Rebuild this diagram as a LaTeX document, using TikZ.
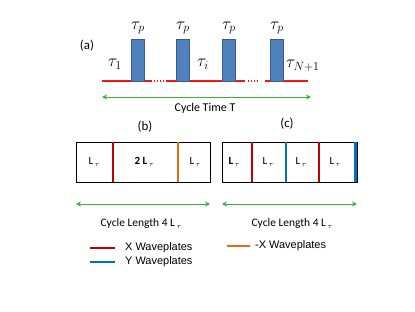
\documentclass[tikz,border=0pt]{standalone}
\usepackage{fontspec}
\setmainfont{Carlito}
\newfontfamily\legfont{Liberation Sans}
\usetikzlibrary{arrows.meta}
\definecolor{pulsefill}{HTML}{4F81BD}
\definecolor{pulsedraw}{HTML}{385D8A}
\definecolor{xwp}{HTML}{C00000}
\definecolor{ywp}{HTML}{0070C0}
\definecolor{mxwp}{HTML}{E46C0A}
\definecolor{arrowgreen}{HTML}{3CB043}
\definecolor{basered}{HTML}{FF1010}
\tikzset{
  pulse/.style={draw=pulsedraw, fill=pulsefill, line width=0.6pt},
  base/.style={draw=basered, line width=1.3pt},
  dots/.style={draw=basered, line width=1.3pt, dash pattern=on 1.3pt off 1.6pt},
  cyc/.style={draw=arrowgreen, line width=1pt, {Stealth[length=5pt,width=5pt]}-{Stealth[length=5pt,width=5pt]}},
  cell/.style={draw=black, line width=0.6pt},
  wp/.style={line width=2.6pt},
  lbl/.style={font=\fontsize{12}{13}\selectfont, inner sep=0pt},
  cll/.style={font=\fontsize{11.5}{12}\selectfont, inner sep=0pt},
  cl/.style={font=\fontsize{11}{12}\selectfont, inner sep=0pt},
  tau/.style={font=\fontsize{17}{18}\selectfont, inner sep=0pt},
  leglbl/.style={font=\legfont\fontsize{11}{12}\selectfont, inner sep=0pt, anchor=west},
  leg/.style={line width=1.6pt}
}
\newcommand{\Ltau}{L\,\raisebox{-0.35ex}{\scriptsize$\tau$}}
\begin{document}
\begin{tikzpicture}[x=1bp,y=-1bp]
\useasboundingbox (0,0) rectangle (415,312);
% (a)
\node[lbl, font=\fontsize{13}{14}\selectfont] (la) at (87,46) {(a)};
\draw[base] (102,81) -- (131,81);
\draw[base] (144,81) -- (152,81);
\draw[dots] (154,81) -- (166,81);
\draw[base] (167,81) -- (176,81);
\draw[base] (189,81) -- (222,81);
\draw[base] (235,81) -- (245,81);
\draw[dots] (248,81) -- (258,81);
\draw[base] (265,81) -- (308,81);
\path[pulse] (131,39) rectangle (144,81);
\path[pulse] (176,39) rectangle (189,81);
\path[pulse] (222,39) rectangle (235,81);
\path[pulse] (270,39) rectangle (283,81);
\node[tau] (tp1) at (138,28) {$\tau_p$};
\node[tau] (tp2) at (183,28) {$\tau_p$};
\node[tau] (tp3) at (229,28) {$\tau_p$};
\node[tau] (tp4) at (277,28) {$\tau_p$};
\node[tau] (t1) at (115,64) {$\tau_1$};
\node[tau] (ti) at (203,64) {$\tau_i$};
\node[tau, anchor=west] (tn) at (286,66) {$\tau_{N+1}$};
\coordinate (ca1) at (102,97);
\coordinate (ca2) at (311,97);
\draw[cyc] (ca1) -- (ca2);
\node[lbl] (ct) at (205,108) {Cycle Time T};
% (b)
\node[lbl, font=\fontsize{13}{14}\selectfont] (lb) at (145,127) {(b)};
\draw[cell] (76,142) rectangle (210,182);
\draw[wp, xwp] (113,142) -- (113,182);
\draw[wp, mxwp] (178,142) -- (178,182);
\node[cl] (b1) at (94,162) {\Ltau};
\node[cl] (b2) at (144,162) {\textbf{2 L}\,\raisebox{-0.35ex}{\scriptsize$\tau$}};
\node[cl] (b3) at (195,162) {\Ltau};
\coordinate (cb1) at (76,204);
\coordinate (cb2) at (210,204);
\draw[cyc] (cb1) -- (cb2);
\node[cll] (clb) at (141,224) {Cycle Length 4 \Ltau};
% (c)
\node[lbl, font=\fontsize{13}{14}\selectfont] (lc) at (287,124) {(c)};
\draw[cell] (222,142) rectangle (357,182);
\draw[wp, xwp] (252,142) -- (252,182);
\draw[wp, ywp] (286,142) -- (286,182);
\draw[wp, xwp] (319,142) -- (319,182);
\draw[wp, ywp] (355.5,142) -- (355.5,182);
\node[cl] (c1) at (234,162) {\textbf{L}\,\raisebox{-0.35ex}{\scriptsize$\tau$}};
\node[cl] (c2) at (268,162) {\Ltau};
\node[cl] (c3) at (301,162) {\Ltau};
\node[cl] (c4) at (335,162) {\Ltau};
\coordinate (cc1) at (222,204);
\coordinate (cc2) at (357,204);
\draw[cyc] (cc1) -- (cc2);
\node[cll] (clc) at (292,224) {Cycle Length 4 \Ltau};
% legend
\draw[leg, xwp] (90,248) -- (115,248);
\node[leglbl] (lx) at (125,248) {X Waveplates};
\draw[leg, ywp] (90,262) -- (115,262);
\node[leglbl] (ly) at (125,262) {Y Waveplates};
\draw[leg, mxwp] (227,246) -- (250,246);
\node[leglbl] (lmx) at (255,246) {-X Waveplates};
\end{tikzpicture}
\end{document}
